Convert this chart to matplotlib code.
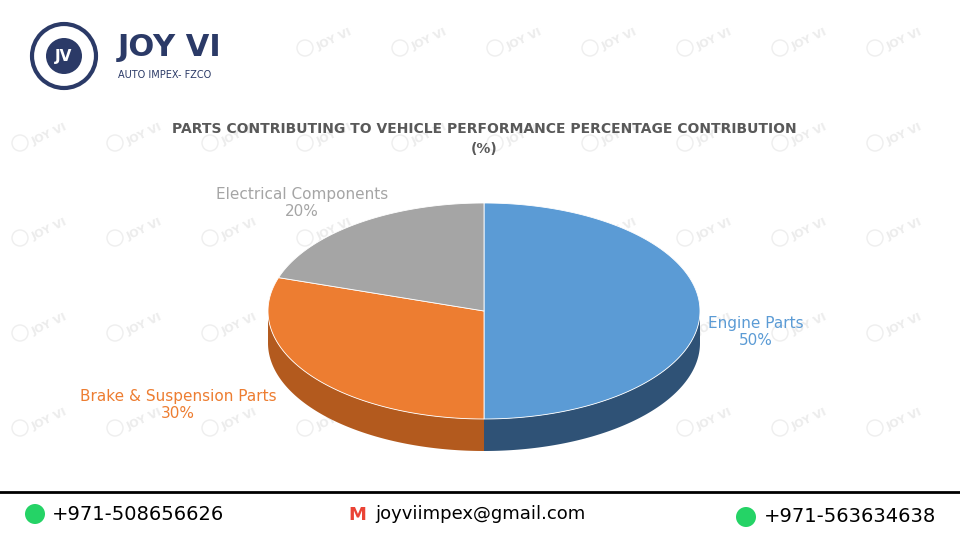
import numpy as np
import matplotlib.pyplot as plt
from matplotlib.patches import Polygon, Circle

labels = ['Engine Parts', 'Brake & Suspension Parts', 'Electrical Components']
values = [50, 30, 20]
top_colors = ['#5b9bd5', '#ed7d31', '#a5a5a5']
side_colors = ['#2f5276', '#b35a1e', '#7a7a7a']
label_colors = ['#5b9bd5', '#ed7d31', '#a5a5a5']

# geometry in pixel space
CX, CY, RX, RY, DEPTH = 484, 311, 216, 108, 32

fig = plt.figure(figsize=(9.6, 5.4), dpi=100)
ax = fig.add_axes([0, 0, 1, 1])
ax.set_xlim(0, 960)
ax.set_ylim(540, 0)
ax.axis('off')

# faint watermark grid
for yy in np.arange(40, 480, 95):
    for xx in np.arange(40, 960, 95):
        if yy < 100 and xx < 250:
            continue
        ax.text(xx + 10, yy, 'JOY VI', fontsize=8, fontweight='bold', color='#ececec',
                rotation=25, ha='center', va='center', zorder=0)
        ax.add_patch(Circle((xx - 20, yy + 8), 8, fill=False, ec='#eeeeee', lw=1, zorder=0))


def pt(a, dy=0):
    return CX + RX * np.cos(a), CY - RY * np.sin(a) + dy


fracs = np.array(values) / sum(values)
starts = np.pi / 2 - 2 * np.pi * np.concatenate([[0], np.cumsum(fracs)[:-1]])
ends = starts - 2 * np.pi * fracs

# side walls (front half only)
for s, e, c in zip(starts, ends, side_colors):
    a = np.linspace(s, e, 200)
    a = a[np.sin(a) <= 0.001]
    if len(a) < 2:
        continue
    x, y = pt(a)
    poly = np.column_stack([np.r_[x, x[::-1]], np.r_[y, (y + DEPTH)[::-1]]])
    ax.add_patch(Polygon(poly, closed=True, fc=c, ec='none', zorder=2))

# top faces
for s, e, c in zip(starts, ends, top_colors):
    a = np.linspace(s, e, 200)
    x, y = pt(a)
    poly = np.column_stack([np.r_[CX, x], np.r_[CY, y]])
    ax.add_patch(Polygon(poly, closed=True, fc=c, ec='white', lw=0.6, zorder=3))

label_pos = [(756, 332), (178, 405), (302, 203)]
for lab, v, (lx, ly), col in zip(labels, values, label_pos, label_colors):
    ax.text(lx, ly, f'{lab}\n{v}%', ha='center', va='center', fontsize=11,
            color=col, linespacing=1.2, zorder=5)

ax.text(484, 139, 'PARTS CONTRIBUTING TO VEHICLE PERFORMANCE PERCENTAGE CONTRIBUTION\n(%)',
        ha='center', va='center', fontsize=10, fontweight='bold', color='#595959',
        linespacing=1.6)

# header logo
ax.add_patch(Circle((64, 56), 32, fill=False, ec='#2b3a67', lw=3))
ax.add_patch(Circle((64, 56), 18, fc='#2b3a67', ec='none'))
ax.text(64, 56, 'JV', ha='center', va='center', fontsize=11, fontweight='bold', color='white')
ax.text(118, 48, 'JOY VI', ha='left', va='center', fontsize=22, fontweight='bold', color='#2b3a67')
ax.text(118, 75, 'AUTO IMPEX- FZCO', ha='left', va='center', fontsize=7, color='#2b3a67')

# footer
ax.plot([0, 960], [492, 492], color='black', lw=2)
ax.add_patch(Circle((35, 514), 10, fc='#25d366', ec='none'))
ax.text(52, 514, '+971-508656626', ha='left', va='center', fontsize=14, color='black')
ax.text(357, 515, 'M', ha='center', va='center', fontsize=13, fontweight='bold', color='#ea4335')
ax.text(375, 514, 'joyviimpex@gmail.com', ha='left', va='center', fontsize=13, color='black')
ax.add_patch(Circle((746, 517), 10, fc='#25d366', ec='none'))
ax.text(764, 517, '+971-563634638', ha='left', va='center', fontsize=14, color='black')

fig.savefig('out.png', dpi=100)
